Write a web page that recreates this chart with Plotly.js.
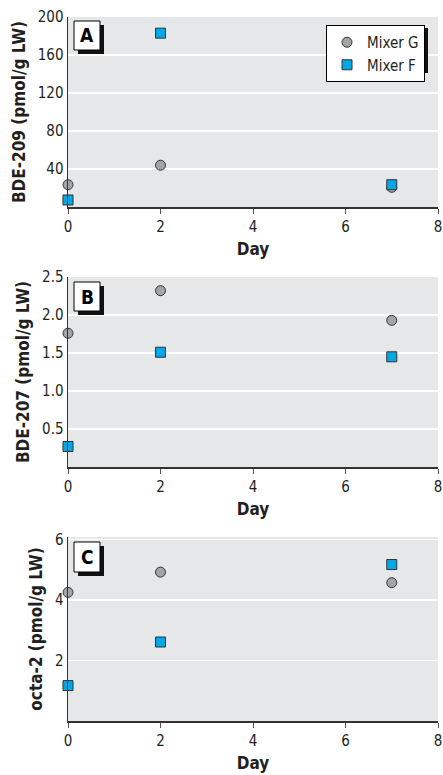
<!DOCTYPE html>
<html>
<head>
<meta charset="utf-8">
<script src="https://cdn.plot.ly/plotly-3.0.1.min.js"></script>
<style>html,body{margin:0;padding:0;background:#fff;}#chart{width:443px;height:775px;}</style>
</head>
<body>
<div id="chart"></div>
<script>
// ---- data ----
const days = [0, 2, 7];
const seriesNames = ["Mixer G", "Mixer F"];
const bde209_G = [23.5, 44, 20.7];
const bde209_F = [7.4, 183, 23.5];
const bde207_G = [1.76, 2.32, 1.93];
const bde207_F = [0.27, 1.51, 1.45];
const octa2_G = [4.25, 4.92, 4.57];
const octa2_F = [1.17, 2.61, 5.17];
const xTicks = [0, 2, 4, 6, 8];
const yTicksA = [40, 80, 120, 160, 200];
const yTicksB = [0.5, 1.0, 1.5, 2.0, 2.5];
const yTickTextB = ["0.5", "1.0", "1.5", "2.0", "2.5"];
const yTicksC = [2, 4, 6];
const panelLabels = ["A", "B", "C"];
const yTitles = ["BDE-209 (pmol/g LW)", "BDE-207 (pmol/g LW)", "octa-2 (pmol/g LW)"];

// ---- layout helpers ----
const W = 443, H = 775;
const px = v => v / W;
const py = v => 1 - v / H;
const FONT = "Liberation Sans Narrow, DejaVu Sans Condensed, Arial Narrow, sans-serif";
const TXT = "#231f20";
const GRAY = "#a3a4a8", BLUE = "#00a8e8", EDGE = "#333333";

const panels = [
  {g: bde209_G, f: bde209_F, top: 17, bot: 207, range: [0, 200], tv: yTicksA, tt: null},
  {g: bde207_G, f: bde207_F, top: 277, bot: 467, range: [0, 2.5], tv: yTicksB, tt: yTickTextB},
  {g: octa2_G, f: octa2_F, top: 537, bot: 721, range: [0, 6.08], tv: yTicksC, tt: null}
];
const boxes = [[74, 21, 100, 50], [74, 282, 100, 311], [74, 542, 100, 572]];

const data = [];
const layout = {
  width: W, height: H,
  margin: {l: 0, r: 0, t: 0, b: 0},
  paper_bgcolor: "#ffffff",
  font: {family: FONT, color: TXT, size: 14},
  showlegend: true,
  legend: {
    x: px(425), y: py(25), xanchor: "right", yanchor: "top",
    bgcolor: "#ffffff", bordercolor: "#000000", borderwidth: 1,
    font: {family: FONT, size: 15, color: TXT},
    itemwidth: 30, tracegroupgap: 0
  },
  shapes: [], annotations: []
};

panels.forEach((p, i) => {
  const n = i === 0 ? "" : String(i + 1);
  const xa = "x" + n, ya = "y" + n;
  data.push({
    type: "scatter", mode: "markers", x: days, y: p.g, xaxis: xa, yaxis: ya,
    name: seriesNames[0], showlegend: i === 0, cliponaxis: false,
    marker: {symbol: "circle", size: 10, color: GRAY, line: {color: EDGE, width: 1}}
  });
  data.push({
    type: "scatter", mode: "markers", x: days, y: p.f, xaxis: xa, yaxis: ya,
    name: seriesNames[1], showlegend: i === 0, cliponaxis: false,
    marker: {symbol: "square", size: 10, color: BLUE, line: {color: EDGE, width: 1}}
  });
  layout["xaxis" + n] = {
    domain: [px(68), px(438)], anchor: ya, range: [0, 8],
    tickvals: xTicks, ticks: "outside", ticklen: 5, tickcolor: "#555",
    showline: true, linecolor: "#333", linewidth: 1.5,
    showgrid: false, zeroline: false, fixedrange: true,
    tickfont: {family: FONT, size: 15, color: TXT},
    title: {text: "<b>Day</b>", font: {family: FONT, size: 17, color: TXT}, standoff: 8}
  };
  const yax = {
    domain: [py(p.bot), py(p.top)], anchor: xa, range: p.range,
    tickvals: p.tv, ticks: "", showline: true, linecolor: "#333", linewidth: 1.5,
    showgrid: true, gridcolor: "#ffffff", gridwidth: 1.2, zeroline: false, fixedrange: true,
    tickfont: {family: FONT, size: 15, color: TXT},
    title: {text: "<b>" + yTitles[i] + "</b>", font: {family: FONT, size: 17, color: TXT}, standoff: 8}
  };
  if (p.tt) yax.ticktext = p.tt;
  layout["yaxis" + n] = yax;
  layout.shapes.push({type: "rect", xref: "paper", yref: "paper",
    x0: px(68), x1: px(438), y0: py(p.bot), y1: py(p.top),
    fillcolor: "#e6e7e8", line: {width: 0}, layer: "below"});
  const b = boxes[i];
  layout.shapes.push({type: "rect", xref: "paper", yref: "paper",
    x0: px(b[0] + 4), x1: px(b[2] + 4), y0: py(b[3] + 4), y1: py(b[1] + 4),
    fillcolor: "#111111", line: {width: 0}, layer: "above"});
  layout.shapes.push({type: "rect", xref: "paper", yref: "paper",
    x0: px(b[0]), x1: px(b[2]), y0: py(b[3]), y1: py(b[1]),
    fillcolor: "#ffffff", line: {color: "#000000", width: 1}, layer: "above"});
  layout.annotations.push({xref: "paper", yref: "paper",
    x: px((b[0] + b[2]) / 2), y: py((b[1] + b[3]) / 2), xanchor: "center", yanchor: "middle",
    text: "<b>" + panelLabels[i] + "</b>", showarrow: false,
    font: {family: FONT, size: 19, color: "#000"}});
});
// legend shadow
layout.shapes.push({type: "rect", xref: "paper", yref: "paper",
  x0: px(330), x1: px(428), y0: py(73), y1: py(28),
  fillcolor: "#111111", line: {width: 0}, layer: "above"});

Plotly.newPlot("chart", data, layout, {staticPlot: true, displayModeBar: false});
</script>
</body>
</html>
